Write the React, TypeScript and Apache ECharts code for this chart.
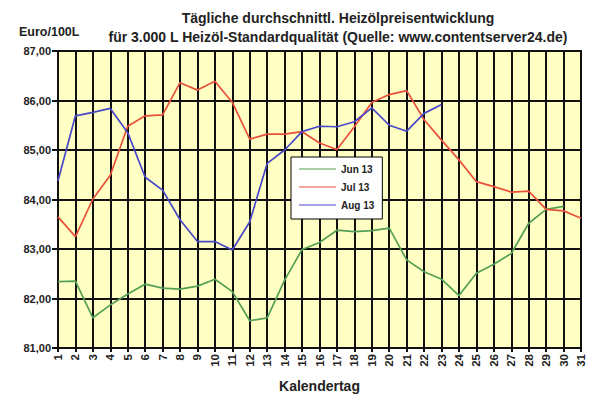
import { useEffect, useRef } from "react";
import * as echarts from "echarts";

const days = Array.from({ length: 31 }, (_, i) => i + 1);

const jun13 = [82.34, 82.35, 81.61, 81.87, 82.09, 82.29, 82.21, 82.19, 82.25, 82.39,
  82.14, 81.55, 81.61, 82.37, 82.99, 83.13, 83.38, 83.35, 83.37, 83.42,
  82.78, 82.54, 82.39, 82.06, 82.51, 82.69, 82.91, 83.52, 83.80, 83.86];

const jul13 = [83.65, 83.25, 84.01, 84.49, 85.48, 85.69, 85.71, 86.36, 86.21, 86.39,
  85.96, 85.22, 85.32, 85.32, 85.37, 85.14, 85.01, 85.47, 85.96, 86.12,
  86.2, 85.61, 85.2, 84.8, 84.36, 84.26, 84.15, 84.17, 83.8, 83.77, 83.62];

const aug13 = [84.38, 85.69, 85.76, 85.84, 85.35, 84.45, 84.19, 83.59, 83.15, 83.15,
  82.98, 83.55, 84.73, 85.0, 85.37, 85.48, 85.47, 85.57, 85.85, 85.5,
  85.38, 85.74, 85.92];

const seriesNames = ["Jun 13", "Jul 13", "Aug 13"];
const seriesColors = ["#55A055", "#E8503A", "#4848C8"];

const font = "Liberation Sans, Arial, sans-serif";

export default function App() {
  const chartRef = useRef<HTMLDivElement>(null);

  useEffect(() => {
    if (!chartRef.current) return;
    const chart = echarts.init(chartRef.current, null, { renderer: "svg" });
    const allData = [jun13, jul13, aug13];

    chart.setOption({
      animation: false,
      backgroundColor: "#ffffff",
      color: seriesColors,
      textStyle: { fontFamily: font },
      title: [
        {
          text: "Tägliche durchschnittl. Heizölpreisentwicklung\nfür 3.000 L Heizöl-Standardqualität (Quelle: www.contentserver24.de)",
          left: 333,
          top: 3,
          textAlign: "center",
          textStyle: { fontSize: 14, fontWeight: "bold", color: "#222", lineHeight: 19, fontFamily: font },
        },
        {
          text: "Euro/100L",
          left: 14,
          top: 20,
          textStyle: { fontSize: 12.5, fontWeight: "bold", color: "#222", fontFamily: font },
        },
      ],
      legend: {
        orient: "vertical",
        left: 291,
        top: 157,
        width: 90,
        padding: [7, 8, 9, 8],
        itemGap: 8,
        itemWidth: 37,
        itemHeight: 8,
        backgroundColor: "#ffffff",
        borderColor: "#000",
        borderWidth: 1,
        icon: "path://M0,3.4 L37,3.4 L37,4.6 L0,4.6 Z",
        textStyle: { fontSize: 10, fontWeight: "bold", color: "#222", fontFamily: font },
        data: seriesNames,
      },
      grid: {
        left: 58,
        top: 51,
        right: 14,
        bottom: 52,
        show: true,
        backgroundColor: "#FFFFC4",
        borderColor: "#111",
        borderWidth: 2,
      },
      xAxis: {
        type: "value",
        min: 1,
        max: 31,
        interval: 1,
        name: "Kalendertag",
        nameLocation: "middle",
        nameGap: 31,
        nameTextStyle: { fontSize: 14, fontWeight: "bold", color: "#222", fontFamily: font },
        axisLine: { show: true, lineStyle: { color: "#111", width: 2 } },
        axisTick: { show: true, length: 4, lineStyle: { color: "#111", width: 2 } },
        axisLabel: {
          rotate: 90,
          fontSize: 11.5,
          fontWeight: "bold",
          color: "#222",
          margin: 6,
          fontFamily: font,
        },
        splitLine: { show: true, lineStyle: { color: "#111", width: 2 } },
      },
      yAxis: {
        type: "value",
        min: 81,
        max: 87,
        interval: 1,
        axisLine: { show: true, lineStyle: { color: "#111", width: 2 } },
        axisTick: { show: true, length: 6, lineStyle: { color: "#111", width: 2 } },
        axisLabel: {
          fontSize: 11,
          fontWeight: "bold",
          color: "#222",
          margin: 7,
          fontFamily: font,
          formatter: (v: number) => v.toFixed(2).replace(".", ","),
        },
        splitLine: { show: true, lineStyle: { color: "#111", width: 2 } },
      },
      series: allData.map((vals, si) => ({
        name: seriesNames[si],
        type: "line",
        data: vals.map((v, i) => [days[i], v]),
        symbol: "none",
        color: seriesColors[si],
        lineStyle: { color: seriesColors[si], width: 1.7 },
        itemStyle: { color: seriesColors[si] },
        z: 3,
      })),
    });

    return () => {
      chart.dispose();
    };
  }, []);

  return (
    <div
      ref={chartRef}
      style={{ position: "absolute", left: 0, top: 0, width: 595, height: 400 }}
    />
  );
}
